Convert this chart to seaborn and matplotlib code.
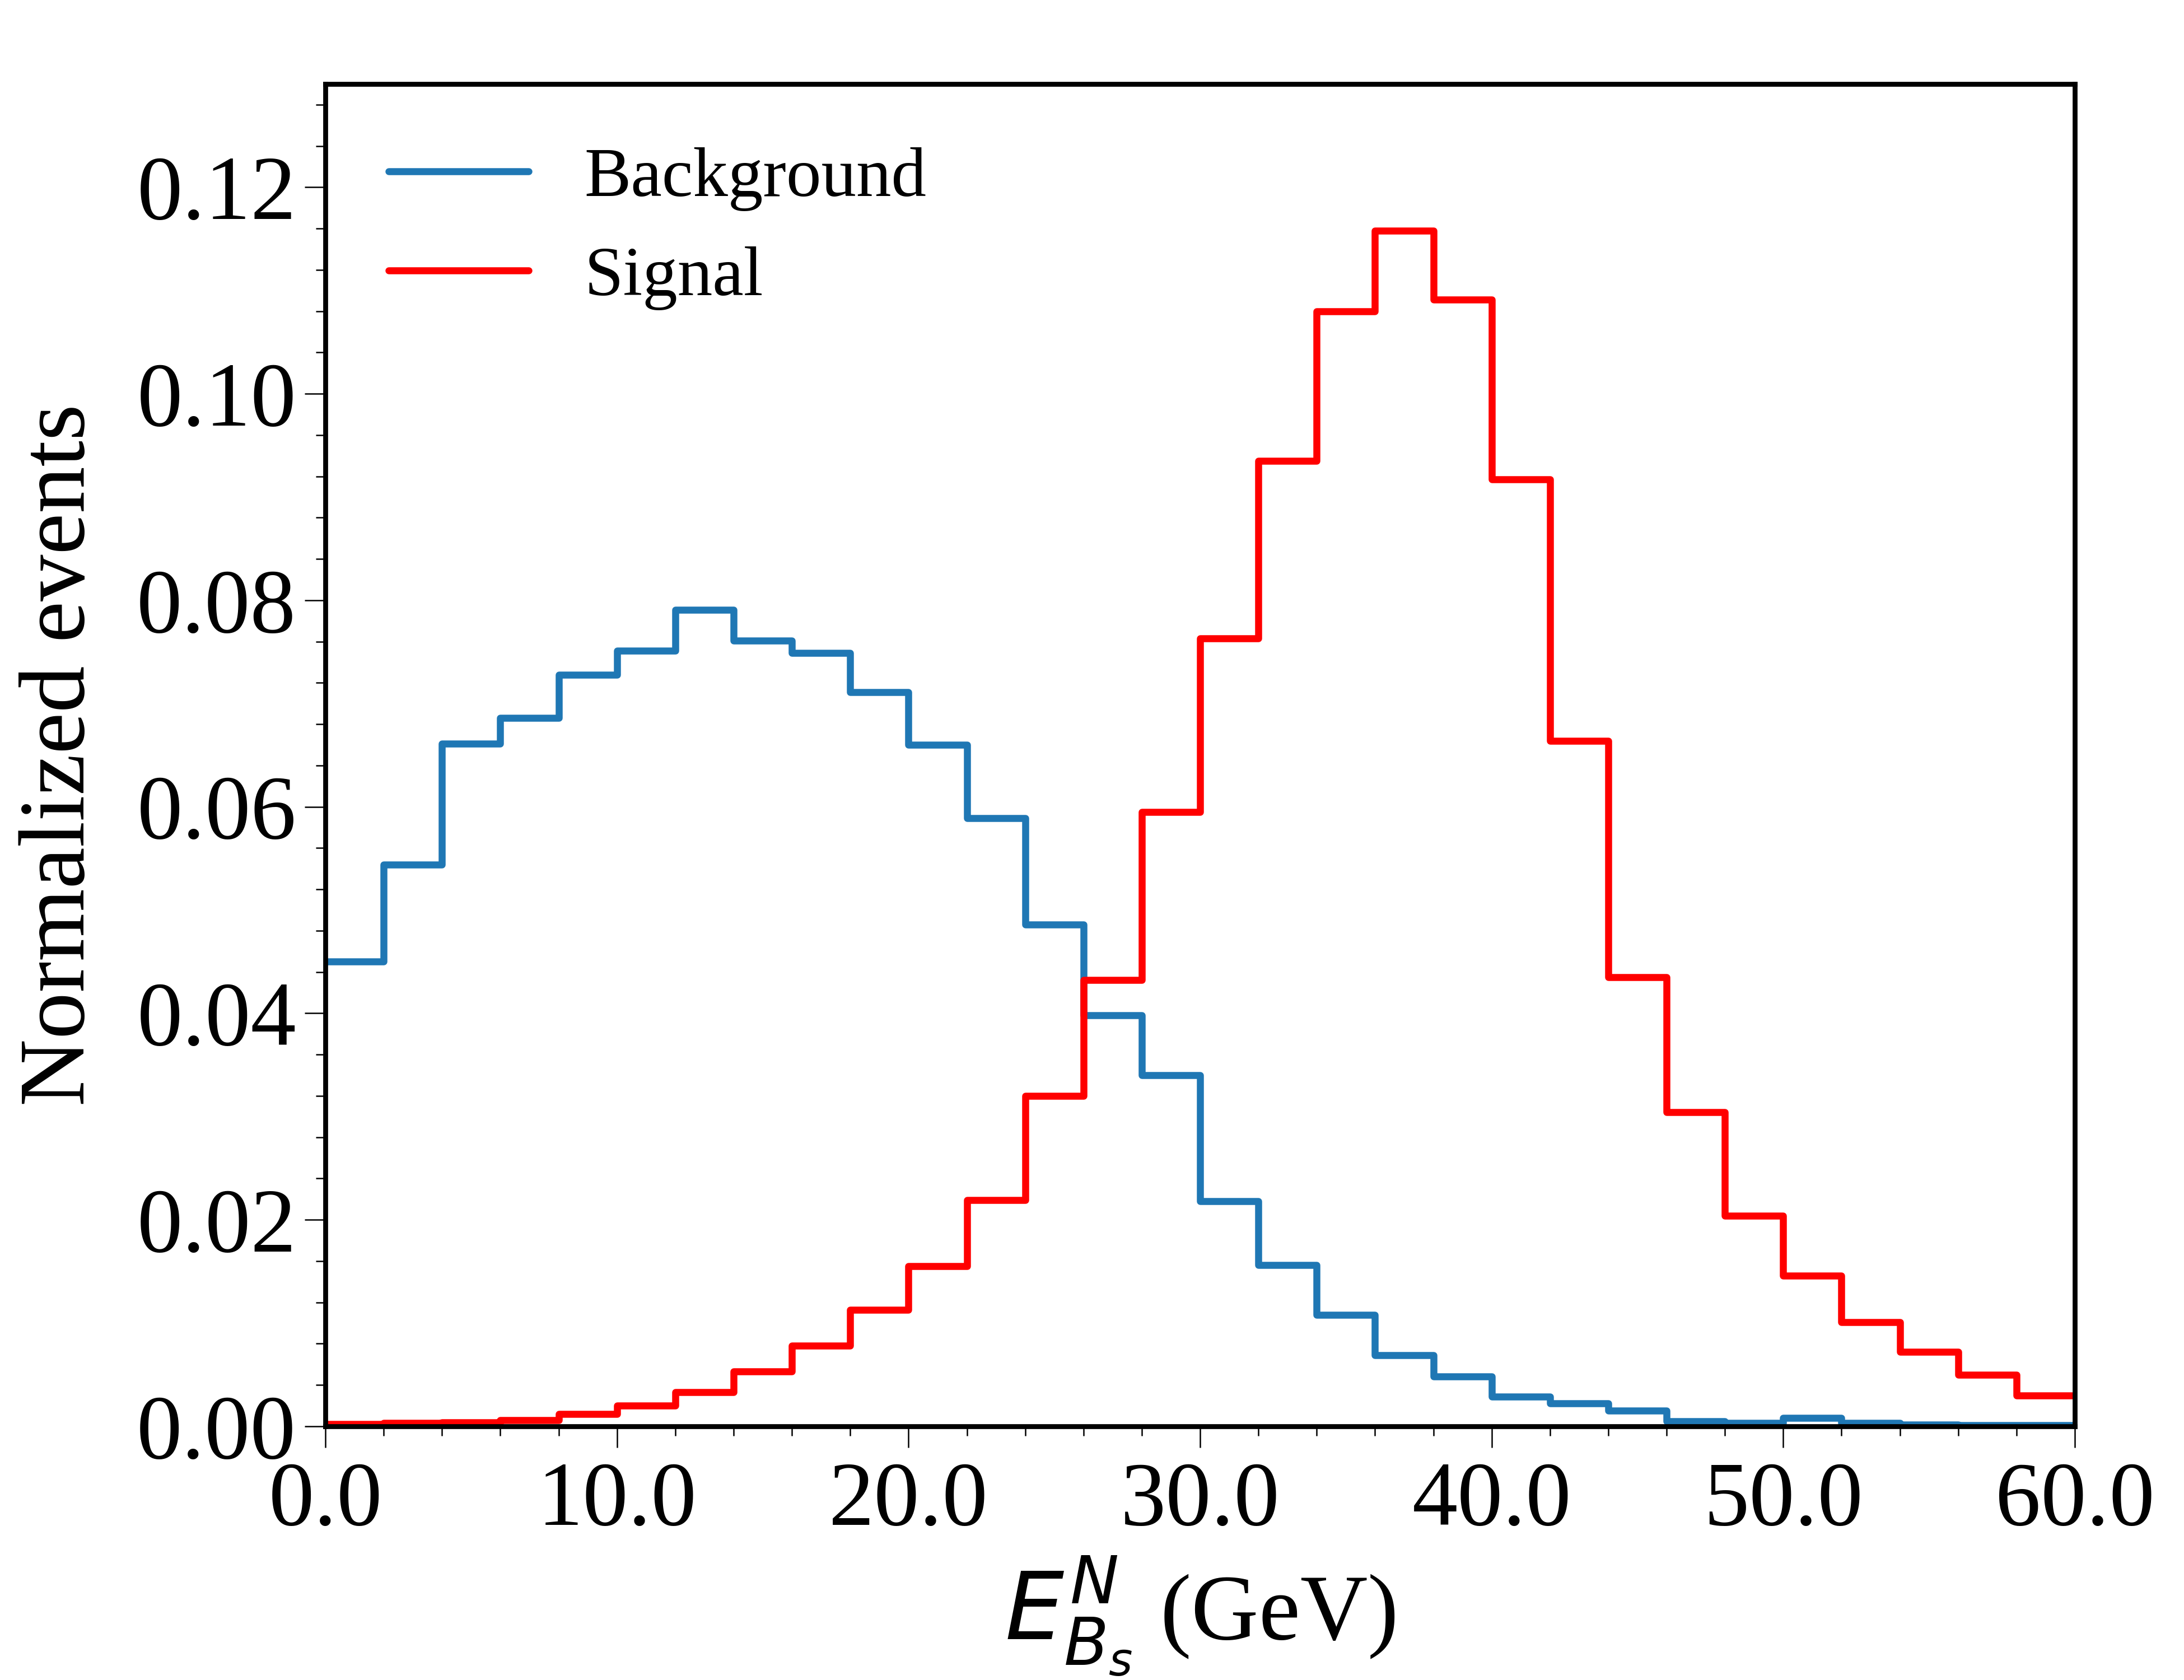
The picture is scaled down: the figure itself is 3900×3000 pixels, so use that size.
import seaborn as sns
import matplotlib.pyplot as plt
import matplotlib.ticker as mticker
import numpy as np
import pandas as pd

# histogram bins (GeV), width 2
bin_centers = np.arange(1, 60, 2)

# normalized events
background = [0.0450, 0.0544, 0.0661, 0.0686, 0.0728, 0.0751, 0.0791, 0.0761,
              0.0749, 0.0711, 0.0660, 0.0589, 0.0486, 0.0398, 0.0340, 0.0218,
              0.0156, 0.0108, 0.0069, 0.0048, 0.0029, 0.0022, 0.0015, 0.0005,
              0.0003, 0.0008, 0.0003, 0.00015, 0.0001, 0.0001]
signal = [0.0002, 0.0003, 0.0004, 0.0006, 0.0012, 0.0020, 0.0033, 0.0053,
          0.0078, 0.0113, 0.0155, 0.0219, 0.0320, 0.0432, 0.0595, 0.0763,
          0.0935, 0.1080, 0.1158, 0.1091, 0.0917, 0.0664, 0.0435, 0.0304,
          0.0204, 0.0146, 0.0101, 0.0072, 0.0050, 0.0030]

bkg_df = pd.DataFrame({"E": bin_centers, "w": background})
sig_df = pd.DataFrame({"E": bin_centers, "w": signal})

sns.set_style("ticks")
plt.rcParams['font.family'] = ['Liberation Serif', 'DejaVu Serif']
plt.rcParams['mathtext.fontset'] = 'dejavusans'
plt.rcParams['axes.linewidth'] = 2.1
# plain black text and axes
for key in ['text.color', 'axes.labelcolor', 'xtick.color', 'ytick.color',
            'axes.edgecolor']:
    plt.rcParams[key] = 'black'

fig, ax = plt.subplots(figsize=[13, 10], dpi=300)
fig.subplots_adjust(left=0.149, right=0.950, bottom=0.151, top=0.950)

sns.histplot(data=bkg_df, x="E", weights="w", binwidth=2, binrange=(0, 60),
             element="step", fill=False, color="#1f77b4", linewidth=3.0,
             label="Background", ax=ax)
sns.histplot(data=sig_df, x="E", weights="w", binwidth=2, binrange=(0, 60),
             element="step", fill=False, color="#ff0000", linewidth=3.0,
             label="Signal", ax=ax)

ax.set_xlim(0, 60)
ax.set_ylim(0, 0.13)
ax.xaxis.set_major_locator(mticker.MultipleLocator(10))
ax.xaxis.set_minor_locator(mticker.MultipleLocator(2))
ax.yaxis.set_major_locator(mticker.MultipleLocator(0.02))
ax.yaxis.set_minor_locator(mticker.MultipleLocator(0.004))
ax.xaxis.set_major_formatter(mticker.FormatStrFormatter('%.1f'))
ax.yaxis.set_major_formatter(mticker.FormatStrFormatter('%.2f'))
ax.tick_params(which='major', direction='out', length=9, width=0.6,
               labelsize=39, colors='black')
ax.tick_params(which='minor', direction='out', length=4, width=0.6,
               colors='black')
ax.tick_params(axis='x', which='major', pad=6)
for s in ax.spines.values():
    s.set_visible(True)
    s.set_linewidth(2.1)
    s.set_color('black')

ax.set_xlabel(r"$E^{N}_{B_s}$ (GeV)", fontsize=40, labelpad=4, color='black')
ax.set_ylabel("Normalized events", fontsize=40, labelpad=14, color='black')
ax.legend(loc="upper left", frameon=False, fontsize=30, labelcolor='black')

plt.savefig("out.png", dpi=300)
